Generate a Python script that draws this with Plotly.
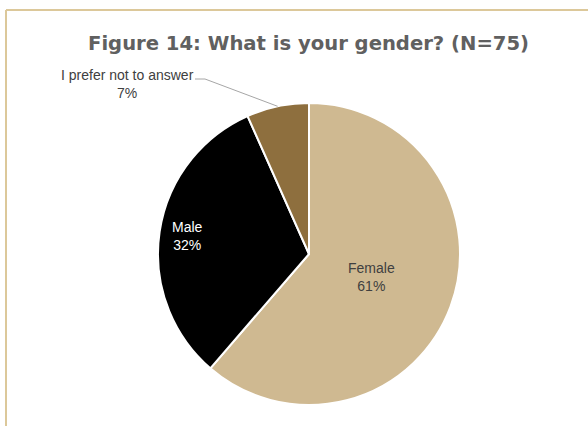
import math
import plotly.graph_objects as go

# Survey responses (N=75)
labels = ["Female", "Male", "I prefer not to answer"]
counts = [46, 24, 5]
pct_text = ["61%", "32%", "7%"]
colors = ["#CFB991", "#000000", "#8E6F3E"]

W, H = 588, 426
CX, CY, R = 309, 254, 151  # pie centre and radius in pixels


def px(x):
    return x / W


def py(y):
    return 1 - y / H


fig = go.Figure(
    go.Pie(
        labels=labels,
        values=counts,
        sort=False,
        direction="clockwise",
        rotation=0,
        marker=dict(colors=colors, line=dict(color="white", width=2)),
        textinfo="none",
        hoverinfo="skip",
        showlegend=False,
        domain=dict(x=[px(CX - R), px(CX + R)], y=[py(CY + R), py(CY - R)]),
    )
)

# mid-angle of each slice (degrees clockwise from 12 o'clock)
total = sum(counts)
mids = []
acc = 0
for c in counts:
    mids.append((acc + c / 2) / total * 360)
    acc += c


def polar(angle_deg, frac):
    a = math.radians(angle_deg)
    return CX + frac * R * math.sin(a), CY - frac * R * math.cos(a)


label_font = "Liberation Sans Narrow, Arial Narrow, Liberation Sans, Arial"
annotations = []

# inside labels
inside = {0: (0.44, "#404040"), 1: (0.815, "#FFFFFF")}
for i, (frac, col) in inside.items():
    x, y = polar(mids[i], frac)
    annotations.append(dict(
        x=px(x), y=py(y), xref="paper", yref="paper", showarrow=False,
        text=f"{labels[i]}<br>{pct_text[i]}",
        font=dict(family=label_font, size=14, color=col),
        align="center", xanchor="center", yanchor="middle",
    ))

# outside label with leader line
ex, ey = polar(mids[2], 1.0)
bend_x, bend_y, tail_x = 205, 79, 195
fig.add_shape(type="path", xref="paper", yref="paper",
              path=f"M {px(ex)} {py(ey)} L {px(bend_x)} {py(bend_y)} L {px(tail_x)} {py(bend_y)}",
              line=dict(color="#A6A6A6", width=1))
annotations.append(dict(
    x=px(127), y=py(84), xref="paper", yref="paper", showarrow=False,
    text=f"{labels[2]}<br>{pct_text[2]}",
    font=dict(family=label_font, size=14, color="#404040"),
    align="center", xanchor="center", yanchor="middle",
))

# title
annotations.append(dict(
    x=px(308), y=py(43), xref="paper", yref="paper", showarrow=False,
    text="Figure 14: What is your gender? (N=75)",
    font=dict(family="DejaVu Sans, Liberation Sans, Arial", size=19.6, weight="bold", color="#606060"),
    xanchor="center", yanchor="middle",
))

# frame lines along the top and left edges
frame = "#DCC89A"
fig.add_shape(type="line", xref="paper", yref="paper",
              x0=px(6), x1=1, y0=py(10), y1=py(10), line=dict(color=frame, width=2))
fig.add_shape(type="line", xref="paper", yref="paper",
              x0=px(6), x1=px(6), y0=py(10), y1=0, line=dict(color=frame, width=2))

fig.update_layout(
    width=W, height=H,
    margin=dict(l=0, r=0, t=0, b=0),
    paper_bgcolor="white", plot_bgcolor="white",
    annotations=annotations,
)

fig.write_html("out.html")
